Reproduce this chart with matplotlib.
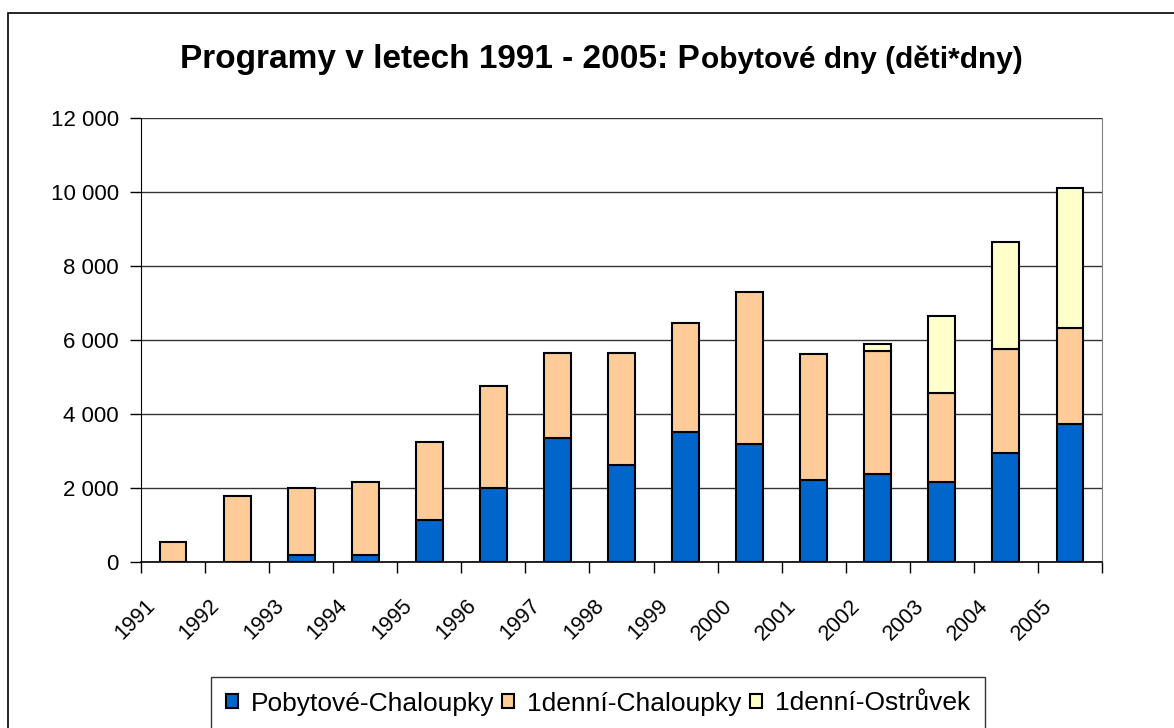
import numpy as np
import matplotlib
matplotlib.use("Agg")
import matplotlib.pyplot as plt
import matplotlib.transforms as mtransforms
from matplotlib.patches import Rectangle

plt.rcParams['font.family'] = ['Liberation Sans', 'DejaVu Sans']

years = ['1991', '1992', '1993', '1994', '1995', '1996', '1997', '1998',
         '1999', '2000', '2001', '2002', '2003', '2004', '2005']
pobytove_chaloupky = [0, 0, 200, 200, 1140, 2000, 3350, 2620, 3520, 3180, 2220, 2390, 2160, 2950, 3740]
denni_chaloupky = [550, 1780, 1800, 1970, 2090, 2750, 2310, 3040, 2930, 4110, 3390, 3310, 2410, 2810, 2590]
denni_ostruvek = [0, 0, 0, 0, 0, 0, 0, 0, 0, 0, 0, 180, 2090, 2880, 3770]
series_names = ['Pobytové-Chaloupky', '1denní-Chaloupky', '1denní-Ostrůvek']
colors = ['#0066CC', '#FFCC99', '#FFFFCC']

W, H = 1174, 728
fig = plt.figure(figsize=(W / 100, H / 100), dpi=100)
ax = fig.add_axes([141 / W, 1 - 562 / H, (1102 - 141) / W, (562 - 118) / H])

x = np.arange(len(years))
w = 0.42
bottom = np.zeros(len(years))
handles = []
for vals, name, col in zip([pobytove_chaloupky, denni_chaloupky, denni_ostruvek], series_names, colors):
    vals = np.array(vals, dtype=float)
    mask = vals > 0
    b = ax.bar(x[mask], vals[mask], w, bottom=bottom[mask], color=col,
               edgecolor='black', linewidth=1.5, label=name, zorder=3)
    handles.append(b)
    bottom += vals

ax.set_xlim(-0.5, len(years) - 0.5)
ax.set_ylim(0, 12000)
ax.set_yticks(np.arange(0, 12001, 2000))
ax.set_yticklabels([f"{v:,}".replace(',', ' ') for v in range(0, 12001, 2000)], fontsize=16)
ax.yaxis.grid(True, color='#333333', linewidth=1.0, zorder=0)
ax.tick_params(axis='y', length=8, width=1, color='black', pad=8)

# category boundary ticks, labels in the middle
ax.set_xticks(np.arange(-0.5, len(years), 1.0))
ax.set_xticklabels([])
ax.set_xticks(x, minor=True)
ax.set_xticklabels(years, minor=True, fontsize=15.5, rotation=45, ha='right',
                   va='top', rotation_mode='anchor')
ax.tick_params(axis='x', which='major', length=8, width=1, color='black')
ax.tick_params(axis='x', which='minor', length=0, pad=24)
offset = mtransforms.ScaledTranslation(-28 / 100, 0, fig.dpi_scale_trans)
for lbl in ax.get_xticklabels(minor=True):
    lbl.set_transform(lbl.get_transform() + offset)

ax.spines['top'].set_visible(False)
ax.spines['right'].set_color('#808080')
ax.spines['left'].set_color('black')
ax.spines['bottom'].set_color('black')
ax.spines['bottom'].set_linewidth(1.2)

# title with mixed sizes
t1 = fig.text(180 / W, 1 - 68 / H, 'Programy v letech 1991 - 2005: P',
              fontsize=24, fontweight='bold', ha='left', va='baseline')
fig.canvas.draw()
bb = t1.get_window_extent()
fig.text((bb.x1 + 1) / W, 1 - 68 / H, 'obytové dny (děti*dny)',
         fontsize=21.5, fontweight='bold', ha='left', va='baseline')

leg = fig.legend(handles, series_names, loc='center', ncol=3,
                 bbox_to_anchor=(598 / W, 1 - 703.5 / H), fontsize=19,
                 frameon=True, fancybox=False, edgecolor='black',
                 handlelength=0.45, handleheight=0.45, handletextpad=0.5,
                 columnspacing=0.3, borderpad=0.55, borderaxespad=0)
leg.get_frame().set_linewidth(1.0)

fig.patches.append(Rectangle((8 / W, -0.01), 1.05, 1 - 13 / H + 0.01,
                             transform=fig.transFigure, fill=False,
                             edgecolor='black', linewidth=1.2))

fig.savefig('out.png', dpi=100)
